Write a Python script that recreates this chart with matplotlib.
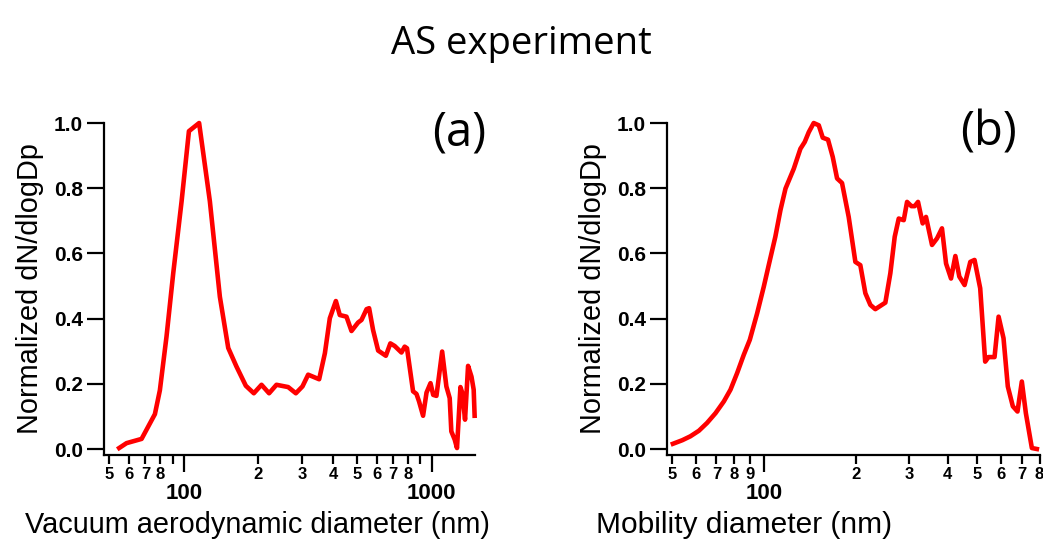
import matplotlib
matplotlib.use("Agg")
import matplotlib.pyplot as plt
from matplotlib.ticker import FixedLocator, FixedFormatter

# ---- data ----
vad_nm = [54.8, 58.7, 67.5, 76.4, 80.0, 85.1, 90.6, 97.9, 104.8, 115.2, 127.3, 139.7,
          151, 163, 177.8, 191.5, 205.7, 220.7, 236.4, 263.5, 283, 301, 317.3, 351.4,
          370.7, 388, 410.5, 425.7, 453, 474.6, 504.6, 521, 546, 559, 580, 608, 653,
          681, 709, 755, 778, 795, 841, 868, 889, 923, 953, 989, 1014, 1045, 1102,
          1146, 1182, 1200, 1238, 1265, 1306, 1330, 1363, 1402, 1447, 1477, 1490]
vad_norm = [0.003, 0.018, 0.031, 0.107, 0.18, 0.345, 0.54, 0.76, 0.975, 1.0, 0.76, 0.467,
            0.31, 0.253, 0.194, 0.171, 0.197, 0.171, 0.197, 0.19, 0.171, 0.192, 0.228, 0.214,
            0.294, 0.401, 0.454, 0.411, 0.406, 0.362, 0.388, 0.396, 0.429, 0.432, 0.365, 0.302, 0.286,
            0.324, 0.316, 0.296, 0.314, 0.309, 0.177, 0.169, 0.146, 0.102, 0.173, 0.202, 0.166, 0.163, 0.299,
            0.192, 0.156, 0.054, 0.029, 0.003, 0.19, 0.171, 0.09, 0.255, 0.222, 0.182, 0.102]

mob_nm = [50.4, 54.1, 57.5, 61.3, 65.2, 69.5, 74, 77.8, 81.8, 86, 90, 95.1, 100, 103.8,
          109.1, 113.4, 117.8, 125.4, 131.8, 136.2, 140.4, 145.7, 151.4, 156, 162.3, 168.2,
          173.8, 180.4, 189.7, 199.5, 207.1, 215.1, 223.4, 231.9, 240.8, 250.1, 259.7, 268.4,
          276.7, 287.3, 294.6, 304.4, 312, 320, 331.4, 339.8, 355.6, 369.2, 383.3, 395.3,
          410.4, 424, 436.9, 454.6, 474.6, 490, 511.4, 531, 544.5, 569.8, 587.5, 609.7,
          629.7, 654.1, 677.5, 700, 721.6, 755, 784]
mob_norm = [0.016, 0.027, 0.039, 0.056, 0.08, 0.11, 0.146, 0.182, 0.233, 0.289, 0.335, 0.416,
            0.498, 0.564, 0.651, 0.733, 0.799, 0.86, 0.921, 0.942, 0.972, 1.0, 0.993, 0.955,
            0.949, 0.896, 0.83, 0.816, 0.712, 0.574, 0.564, 0.478, 0.442, 0.429, 0.439, 0.449,
            0.539, 0.651, 0.707, 0.702, 0.758, 0.745, 0.745, 0.758, 0.692, 0.712, 0.626, 0.646,
            0.677, 0.569, 0.523, 0.592, 0.529, 0.503, 0.574, 0.58, 0.493, 0.268, 0.282, 0.282,
            0.406, 0.34, 0.192, 0.131, 0.115, 0.207, 0.11, 0.003, 0.0]

y_ticks = [0.0, 0.2, 0.4, 0.6, 0.8, 1.0]
y_labels = ["0.0", "0.2", "0.4", "0.6", "0.8", "1.0"]

a_major = [100, 1000]
a_major_labels = ["100", "1000"]
a_minor = [50, 60, 70, 80, 90, 200, 300, 400, 500, 600, 700, 800, 900]
a_minor_labels = ["5", "6", "7", "8", "", "2", "3", "4", "5", "6", "7", "8", ""]

b_major = [100]
b_major_labels = ["100"]
b_minor = [50, 60, 70, 80, 90, 200, 300, 400, 500, 600, 700, 800]
b_minor_labels = ["5", "6", "7", "8", "9", "2", "3", "4", "5", "6", "7", "8"]

title = "AS experiment"
ylabel = "Normalized dN/dlogDp"
xlabel_a = "Vacuum aerodynamic diameter (nm)"
xlabel_b = "Mobility diameter (nm)"

# ---- figure ----
W, H = 1043, 548
fig = plt.figure(figsize=(W / 100, H / 100), dpi=100)
bottom, height = 0.1697, 0.6058
ax_a = fig.add_axes([0.0997, bottom, 0.3557, height])
ax_b = fig.add_axes([0.6395, bottom, 0.3575, height])

LABFONT = "Liberation Sans"
CAL = "Open Sans"

def style(ax, xs, ys, xlim, major, major_labels, minor, minor_labels, letter, letter_x):
    ax.plot(xs, ys, color="#ff0000", lw=3.3, solid_joinstyle="round", clip_on=False, zorder=3)
    ax.set_xscale("log")
    ax.set_xlim(*xlim)
    ax.set_ylim(-0.0184, 1.0)
    for s in ("top", "right"):
        ax.spines[s].set_visible(False)
    for s in ("left", "bottom"):
        ax.spines[s].set_linewidth(1.6)
    ax.set_yticks(y_ticks)
    ax.set_yticklabels(y_labels)
    ax.tick_params(axis="y", direction="out", length=12, width=1.6, pad=3, labelsize=15)
    ax.xaxis.set_major_locator(FixedLocator(major))
    ax.xaxis.set_major_formatter(FixedFormatter(major_labels))
    ax.xaxis.set_minor_locator(FixedLocator(minor))
    ax.xaxis.set_minor_formatter(FixedFormatter(minor_labels))
    ax.tick_params(axis="x", which="major", direction="out", length=12, width=1.6, pad=8, labelsize=16)
    ax.tick_params(axis="x", which="minor", direction="out", length=6.5, width=1.6, pad=2, labelsize=12)
    for lab in ax.get_yticklabels() + ax.get_xticklabels() + ax.get_xticklabels(minor=True):
        lab.set_fontfamily(LABFONT)
        lab.set_fontweight("bold")
    ax.set_ylabel(ylabel, fontsize=20.8, family=LABFONT, labelpad=7)
    fig.text(letter_x / W, 1 - 133 / H, letter, ha="center", va="center",
             fontsize=34, family=CAL)

style(ax_a, vad_nm, vad_norm, (47.6, 1495), a_major, a_major_labels, a_minor, a_minor_labels,
      "(a)", 459)
style(ax_b, mob_nm, mob_norm, (48.2, 802), b_major, b_major_labels, b_minor, b_minor_labels,
      "(b)", 988)

fig.text(257 / W, 1 - 525 / H, xlabel_a, ha="center", va="center", fontsize=20.8, family=LABFONT)
fig.text(744 / W, 1 - 525 / H, xlabel_b, ha="center", va="center", fontsize=21.5, family=LABFONT)

fig.text(521 / W, 1 - 44 / H, title, ha="center", va="center", fontsize=27.5, family=CAL)

fig.savefig("out.png", dpi=100)
